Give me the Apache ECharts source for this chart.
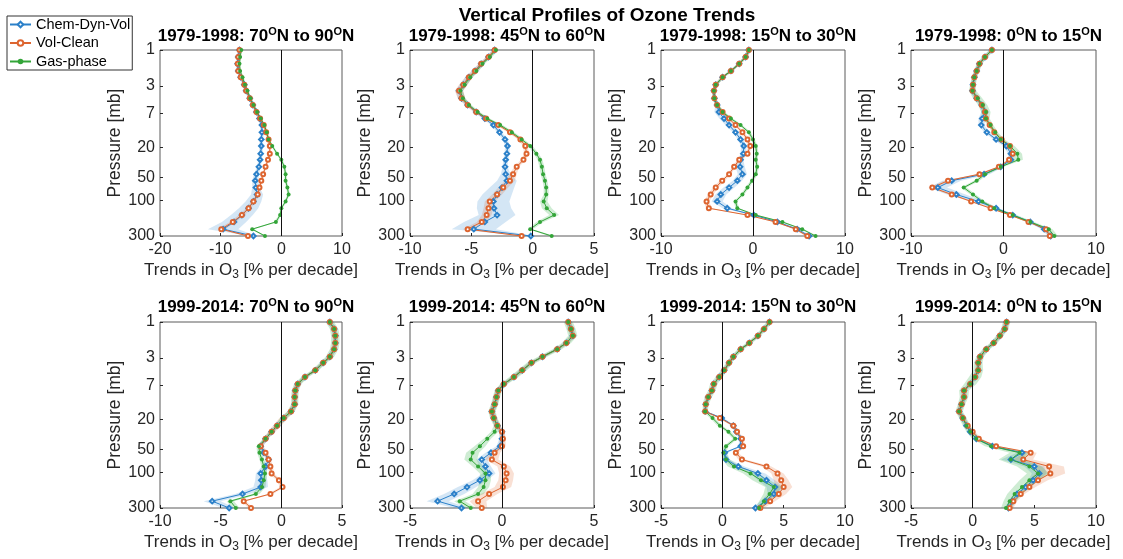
<!DOCTYPE html>
<html>
<head>
<meta charset="utf-8">
<script src="https://cdn.jsdelivr.net/npm/echarts@6/dist/echarts.min.js"></script>
<style>
  html, body { margin: 0; background: #fff; }
  #chart { width: 1123px; height: 559px; }
</style>
</head>
<body>
<div id="chart"></div>
<script>
// pressure levels [mb], shared by every profile
const pressure = [1, 1.24, 1.53, 1.9, 2.3, 2.9, 3.5, 4.4, 5.4, 6.7, 8.2, 10, 12.5, 15.5, 19, 24, 29, 36, 45, 55, 68, 84, 104, 128, 158, 195, 243, 300]
const pressureTicks = [1, 3, 7, 20, 50, 100, 300]
const seriesNames = ['Chem-Dyn-Vol', 'Vol-Clean', 'Gas-phase']

const panelTitles = [
  '1979-1998: 70{s|O}N to 90{s|O}N', '1979-1998: 45{s|O}N to 60{s|O}N',
  '1979-1998: 15{s|O}N to 30{s|O}N', '1979-1998: 0{s|O}N to 15{s|O}N',
  '1999-2014: 70{s|O}N to 90{s|O}N', '1999-2014: 45{s|O}N to 60{s|O}N',
  '1999-2014: 15{s|O}N to 30{s|O}N', '1999-2014: 0{s|O}N to 15{s|O}N',
]
// [min, max, interval] of the trend axis in each panel
const xRanges = [
  [-20, 10, 10], [-10, 5, 5], [-10, 10, 10], [-10, 10, 10],
  [-10, 5, 5], [-5, 5, 5], [-5, 10, 5], [-5, 10, 5],
]

// trends [% per decade] and shading half-widths
const chemDyn1 = [-6.9, -7.1, -7.2, -7.1, -6.7, -6.1, -5.8, -5.2, -4.7, -4.1, -3.6, -3.2, -3.2, -3.3, -3.3, -3.4, -3.5, -3.7, -4.1, -4.3, -4.2, -4.0, -4.6, -5.4, -6.5, -7.8, -9.6, -4.6]
const volClean1 = [-6.9, -7.1, -7.2, -7.1, -6.7, -6.1, -5.8, -5.2, -4.7, -4.1, -3.5, -2.9, -2.5, -2.1, -1.9, -1.9, -2.2, -2.6, -3.0, -3.3, -3.6, -3.9, -4.6, -5.4, -6.5, -8.0, -9.9, -5.5]
const gasPhase1 = [-6.6, -6.8, -6.9, -6.8, -6.4, -6.0, -5.6, -5.1, -4.6, -4.0, -3.4, -2.8, -2.4, -2.1, -1.5, -0.7, 0.0, 0.5, 0.7, 0.7, 1.0, 1.2, 0.7, 0.0, -0.2, -0.9, -4.8, -2.7]
const chemDynSd1 = [0.3, 0.3, 0.3, 0.3, 0.3, 0.3, 0.3, 0.3, 0.3, 0.3, 0.3, 0.3, 0.3, 0.3, 0.3, 0.3, 0.3, 0.3, 0.4, 0.5, 0.6, 1.0, 1.3, 1.6, 1.8, 2.0, 2.5, 0.6]
const volCleanSd1 = [0.2, 0.2, 0.2, 0.2, 0.2, 0.2, 0.2, 0.2, 0.2, 0.2, 0.2, 0.2, 0.2, 0.2, 0.2, 0.2, 0.2, 0.2, 0.2, 0.2, 0.3, 0.3, 0.4, 0.4, 0.5, 0.5, 0.6, 0.3]
const gasPhaseSd1 = [0.2, 0.2, 0.2, 0.2, 0.2, 0.2, 0.2, 0.2, 0.2, 0.2, 0.2, 0.2, 0.2, 0.2, 0.2, 0.2, 0.2, 0.2, 0.2, 0.2, 0.2, 0.2, 0.2, 0.2, 0.2, 0.3, 0.3, 0.2]

const chemDyn2 = [-3.1, -3.6, -4.2, -4.7, -5.2, -5.65, -6.0, -5.8, -5.3, -4.6, -3.9, -3.2, -2.7, -2.25, -2.05, -2.1, -2.2, -2.25, -2.2, -2.1, -2.5, -2.9, -3.2, -3.15, -2.9, -3.9, -4.8, -0.15]
const volClean2 = [-3.1, -3.6, -4.2, -4.7, -5.2, -5.65, -6.0, -5.8, -5.3, -4.6, -3.8, -2.8, -1.85, -1.0, -0.6, -0.5, -0.75, -1.3, -1.6, -1.85, -2.4, -2.9, -3.5, -3.6, -3.75, -4.15, -5.3, -0.9]
const gasPhase2 = [-3.0, -3.5, -4.1, -4.6, -5.1, -5.55, -5.9, -5.7, -5.2, -4.5, -3.7, -2.65, -1.7, -0.9, -0.2, 0.3, 0.6, 0.75, 0.85, 1.0, 1.1, 1.1, 0.9, 1.15, 1.75, 0.6, -0.2, 1.55]
const chemDynSd2 = [0.2, 0.2, 0.2, 0.2, 0.3, 0.3, 0.3, 0.3, 0.2, 0.2, 0.2, 0.2, 0.2, 0.2, 0.2, 0.2, 0.2, 0.2, 0.4, 0.8, 1.0, 1.2, 1.3, 1.4, 1.5, 1.7, 1.8, 0.3]
const volCleanSd2 = [0.2, 0.2, 0.2, 0.3, 0.3, 0.35, 0.35, 0.3, 0.2, 0.2, 0.2, 0.2, 0.2, 0.2, 0.2, 0.2, 0.2, 0.2, 0.3, 0.4, 0.4, 0.4, 0.4, 0.4, 0.4, 0.4, 0.4, 0.2]
const gasPhaseSd2 = [0.2, 0.2, 0.2, 0.2, 0.2, 0.2, 0.2, 0.2, 0.2, 0.2, 0.2, 0.2, 0.2, 0.2, 0.2, 0.2, 0.2, 0.2, 0.2, 0.2, 0.2, 0.2, 0.3, 0.4, 0.4, 0.3, 0.2, 0.2]

const chemDyn3 = [-0.45, -0.8, -1.5, -2.4, -3.3, -4.05, -4.25, -4.2, -3.9, -3.7, -3.15, -2.6, -1.9, -1.35, -1.0, -1.05, -1.35, -1.4, -1.15, -1.7, -2.6, -3.5, -3.9, -2.8, 0.1, 2.65, 4.8, 6.1]
const volClean3 = [-0.45, -0.8, -1.5, -2.4, -3.3, -4.05, -4.25, -4.2, -3.9, -3.3, -2.6, -1.9, -1.15, -0.6, -0.3, -0.6, -1.5, -2.05, -2.6, -3.35, -4.05, -4.6, -5.05, -4.8, -0.6, 2.45, 4.65, 5.9]
const gasPhase3 = [-0.45, -0.8, -1.5, -2.4, -3.3, -4.05, -4.25, -4.2, -3.9, -3.3, -2.4, -1.35, -0.45, 0.0, 0.3, 0.4, 0.3, 0.45, 0.3, -0.1, -0.6, -1.15, -1.9, -1.7, 0.3, 3.2, 5.35, 6.8]
const chemDynSd3 = [0.2, 0.2, 0.2, 0.2, 0.2, 0.2, 0.2, 0.2, 0.2, 0.5, 0.5, 0.4, 0.3, 0.3, 0.3, 0.3, 0.3, 0.5, 0.5, 0.5, 0.6, 0.6, 0.6, 0.5, 0.3, 0.3, 0.3, 0.3]
const volCleanSd3 = [0.2, 0.2, 0.2, 0.2, 0.2, 0.2, 0.2, 0.2, 0.2, 0.2, 0.2, 0.2, 0.2, 0.2, 0.2, 0.2, 0.2, 0.2, 0.2, 0.3, 0.3, 0.3, 0.3, 0.3, 0.2, 0.2, 0.2, 0.2]
const gasPhaseSd3 = [0.2, 0.2, 0.2, 0.2, 0.2, 0.2, 0.2, 0.2, 0.2, 0.2, 0.2, 0.2, 0.2, 0.2, 0.2, 0.2, 0.2, 0.2, 0.2, 0.2, 0.2, 0.2, 0.2, 0.2, 0.2, 0.2, 0.2, 0.2]

const chemDyn4 = [-1.25, -2.0, -2.6, -2.9, -3.15, -3.3, -3.35, -2.9, -2.35, -2.0, -2.3, -2.4, -1.8, -0.8, 0.3, 0.8, 0.8, -0.3, -2.1, -5.6, -7.1, -5.1, -2.7, -0.8, 1.0, 2.9, 4.4, 5.1]
const volClean4 = [-1.25, -2.0, -2.6, -2.9, -3.15, -3.3, -3.35, -2.9, -2.35, -2.0, -1.9, -1.5, -1.0, -0.2, 0.7, 1.0, 0.6, -0.5, -2.6, -6.0, -7.7, -5.6, -3.5, -1.4, 0.7, 2.7, 4.6, 5.0]
const gasPhase4 = [-1.25, -2.0, -2.6, -2.9, -3.15, -3.3, -3.35, -2.8, -2.25, -1.9, -1.9, -1.4, -0.9, -0.3, 0.7, 1.5, 1.6, -0.3, -2.0, -2.9, -4.3, -3.3, -2.3, -1.0, 1.0, 2.9, 4.9, 5.5]
const chemDynSd4 = [0.25, 0.25, 0.25, 0.25, 0.25, 0.25, 0.25, 0.25, 0.25, 0.4, 0.4, 0.3, 0.3, 0.3, 0.3, 0.3, 0.3, 0.3, 0.6, 1.0, 1.0, 1.0, 0.6, 0.3, 0.3, 0.3, 0.3, 0.3]
const volCleanSd4 = [0.2, 0.2, 0.2, 0.2, 0.2, 0.2, 0.2, 0.2, 0.2, 0.2, 0.2, 0.2, 0.2, 0.2, 0.2, 0.2, 0.2, 0.2, 0.3, 0.4, 0.4, 0.3, 0.2, 0.2, 0.2, 0.2, 0.2, 0.2]
const gasPhaseSd4 = [0.3, 0.3, 0.3, 0.3, 0.3, 0.3, 0.4, 0.5, 0.5, 0.5, 0.4, 0.3, 0.3, 0.4, 0.5, 0.5, 0.5, 0.3, 0.3, 0.3, 0.3, 0.3, 0.3, 0.4, 0.4, 0.4, 0.4, 0.4]

const chemDyn5 = [4.0, 4.35, 4.45, 4.45, 4.35, 4.0, 3.45, 2.8, 1.95, 1.35, 1.15, 1.1, 1.1, 0.8, 0.2, -0.35, -0.8, -1.3, -1.7, -1.45, -1.05, -1.3, -1.7, -1.65, -1.7, -3.2, -5.7, -4.3]
const volClean5 = [4.0, 4.35, 4.45, 4.45, 4.35, 4.0, 3.45, 2.8, 1.95, 1.35, 1.15, 1.1, 1.1, 0.8, 0.2, -0.35, -0.8, -1.3, -1.7, -1.3, -1.05, -0.9, -0.8, -0.2, 0.1, -0.9, -3.1, -2.5]
const gasPhase5 = [4.0, 4.35, 4.45, 4.45, 4.35, 4.0, 3.45, 2.8, 1.95, 1.35, 1.15, 1.1, 1.1, 0.8, 0.2, -0.35, -0.8, -1.3, -1.85, -1.8, -1.6, -1.45, -1.35, -1.45, -1.6, -2.1, -4.2, -3.75]
const chemDynSd5 = [0.2, 0.2, 0.2, 0.2, 0.2, 0.2, 0.2, 0.2, 0.2, 0.2, 0.2, 0.2, 0.2, 0.2, 0.2, 0.2, 0.2, 0.2, 0.2, 0.2, 0.2, 0.3, 0.4, 0.5, 0.6, 0.6, 0.7, 0.5]
const volCleanSd5 = [0.2, 0.2, 0.2, 0.2, 0.2, 0.2, 0.2, 0.2, 0.2, 0.2, 0.2, 0.2, 0.2, 0.3, 0.35, 0.35, 0.3, 0.2, 0.2, 0.2, 0.2, 0.2, 0.2, 0.2, 0.2, 0.2, 0.2, 0.2]
const gasPhaseSd5 = [0.35, 0.35, 0.35, 0.35, 0.35, 0.35, 0.3, 0.3, 0.3, 0.3, 0.3, 0.3, 0.3, 0.3, 0.3, 0.2, 0.2, 0.2, 0.2, 0.2, 0.2, 0.2, 0.2, 0.2, 0.3, 0.3, 0.3, 0.3]

const chemDyn6 = [3.6, 3.75, 3.85, 3.5, 3.0, 2.2, 1.6, 1.1, 0.65, 0.1, -0.2, -0.3, -0.4, -0.55, -0.45, -0.25, 0.0, 0.0, -0.1, -0.6, -1.1, -0.9, -0.7, -1.2, -1.9, -2.6, -3.5, -2.2]
const volClean6 = [3.6, 3.75, 3.85, 3.5, 3.0, 2.2, 1.6, 1.1, 0.65, 0.1, -0.2, -0.3, -0.4, -0.55, -0.45, -0.25, 0.0, 0.05, 0.0, -0.4, -0.55, 0.1, 0.25, 0.2, 0.05, -0.7, -1.3, -1.1]
const gasPhase6 = [3.6, 3.75, 3.85, 3.5, 3.0, 2.2, 1.6, 1.1, 0.65, 0.1, -0.2, -0.3, -0.4, -0.55, -0.45, -0.25, -0.4, -0.8, -1.2, -1.6, -1.7, -1.3, -0.9, -0.9, -1.0, -1.3, -2.3, -1.7]
const chemDynSd6 = [0.15, 0.15, 0.15, 0.15, 0.15, 0.15, 0.15, 0.15, 0.15, 0.15, 0.15, 0.15, 0.15, 0.15, 0.15, 0.15, 0.15, 0.15, 0.2, 0.3, 0.3, 0.3, 0.35, 0.4, 0.5, 0.55, 0.6, 0.4]
const volCleanSd6 = [0.15, 0.15, 0.15, 0.15, 0.15, 0.15, 0.15, 0.15, 0.15, 0.15, 0.15, 0.15, 0.15, 0.15, 0.15, 0.15, 0.15, 0.15, 0.2, 0.3, 0.35, 0.35, 0.4, 0.4, 0.45, 0.45, 0.45, 0.3]
const gasPhaseSd6 = [0.25, 0.25, 0.25, 0.25, 0.25, 0.25, 0.25, 0.25, 0.25, 0.2, 0.2, 0.2, 0.2, 0.2, 0.2, 0.2, 0.2, 0.2, 0.3, 0.35, 0.35, 0.3, 0.3, 0.3, 0.3, 0.3, 0.3, 0.3]

const chemDyn7 = [3.85, 3.4, 2.9, 2.2, 1.5, 0.9, 0.55, 0.15, -0.25, -0.7, -0.85, -1.15, -1.35, -1.4, -0.05, 0.9, 1.15, 1.5, 1.5, 0.2, 0.3, 1.3, 2.9, 3.6, 4.3, 4.2, 3.5, 2.7]
const volClean7 = [3.85, 3.4, 2.9, 2.2, 1.5, 0.9, 0.55, 0.15, -0.25, -0.7, -0.85, -1.15, -1.35, -1.4, -0.2, 0.9, 1.2, 1.6, 1.7, 1.1, 1.6, 3.6, 4.5, 4.8, 5.0, 4.6, 3.9, 3.1]
const gasPhase7 = [3.85, 3.4, 2.9, 2.2, 1.5, 0.9, 0.55, 0.15, -0.25, -0.7, -0.85, -1.15, -1.35, -1.4, -0.8, -0.2, 0.5, 1.05, 0.3, 0.1, 0.3, 0.95, 2.3, 3.15, 4.2, 3.85, 3.4, 3.0]
const chemDynSd7 = [0.15, 0.15, 0.15, 0.15, 0.15, 0.15, 0.15, 0.15, 0.15, 0.15, 0.15, 0.15, 0.15, 0.15, 0.15, 0.15, 0.15, 0.15, 0.15, 0.2, 0.3, 0.5, 0.6, 0.7, 0.7, 0.5, 0.4, 0.3]
const volCleanSd7 = [0.15, 0.15, 0.15, 0.15, 0.15, 0.15, 0.15, 0.15, 0.15, 0.15, 0.15, 0.15, 0.15, 0.15, 0.15, 0.15, 0.15, 0.15, 0.15, 0.2, 0.3, 0.4, 0.5, 0.6, 0.7, 0.6, 0.4, 0.3]
const gasPhaseSd7 = [0.25, 0.25, 0.25, 0.25, 0.25, 0.25, 0.25, 0.25, 0.3, 0.3, 0.3, 0.3, 0.25, 0.2, 0.2, 0.2, 0.2, 0.2, 0.2, 0.2, 0.3, 0.5, 0.6, 0.7, 0.7, 0.5, 0.4, 0.3]

const chemDyn8 = [2.75, 2.6, 2.2, 1.7, 1.1, 0.6, 0.45, 0.45, 0.2, -0.2, -0.7, -0.7, -0.9, -1.1, -0.8, -0.5, -0.2, 0.3, 1.6, 4.0, 3.1, 5.0, 5.4, 4.9, 4.3, 3.6, 3.2, 2.9]
const volClean8 = [2.75, 2.6, 2.2, 1.7, 1.1, 0.6, 0.45, 0.45, 0.2, -0.2, -0.7, -0.7, -0.9, -1.1, -0.8, -0.4, 0.0, 0.5, 1.9, 4.7, 4.1, 6.2, 6.3, 5.3, 4.6, 3.9, 3.3, 3.0]
const gasPhase8 = [2.75, 2.6, 2.2, 1.7, 1.1, 0.6, 0.45, 0.45, 0.2, -0.2, -0.7, -0.7, -0.9, -1.1, -0.8, -0.5, -0.2, 0.3, 1.5, 3.8, 3.1, 4.6, 5.3, 4.6, 4.0, 3.4, 3.0, 2.7]
const chemDynSd8 = [0.2, 0.2, 0.2, 0.2, 0.2, 0.2, 0.2, 0.2, 0.2, 0.2, 0.2, 0.2, 0.2, 0.2, 0.2, 0.2, 0.2, 0.2, 0.2, 0.4, 0.8, 0.8, 0.6, 0.4, 0.3, 0.3, 0.3, 0.3]
const volCleanSd8 = [0.2, 0.2, 0.2, 0.2, 0.2, 0.2, 0.2, 0.2, 0.2, 0.2, 0.2, 0.2, 0.2, 0.2, 0.2, 0.2, 0.2, 0.2, 0.2, 0.5, 0.8, 1.2, 1.2, 0.8, 0.5, 0.3, 0.3, 0.3]
const gasPhaseSd8 = [0.3, 0.3, 0.3, 0.3, 0.3, 0.3, 0.35, 0.4, 0.5, 0.5, 0.4, 0.35, 0.3, 0.3, 0.3, 0.3, 0.3, 0.35, 0.5, 0.8, 1.0, 1.0, 0.9, 0.8, 0.7, 0.6, 0.5, 0.4]

const trends = [
  [chemDyn1, volClean1, gasPhase1], [chemDyn2, volClean2, gasPhase2],
  [chemDyn3, volClean3, gasPhase3], [chemDyn4, volClean4, gasPhase4],
  [chemDyn5, volClean5, gasPhase5], [chemDyn6, volClean6, gasPhase6],
  [chemDyn7, volClean7, gasPhase7], [chemDyn8, volClean8, gasPhase8],
]
const spreads = [
  [chemDynSd1, volCleanSd1, gasPhaseSd1], [chemDynSd2, volCleanSd2, gasPhaseSd2],
  [chemDynSd3, volCleanSd3, gasPhaseSd3], [chemDynSd4, volCleanSd4, gasPhaseSd4],
  [chemDynSd5, volCleanSd5, gasPhaseSd5], [chemDynSd6, volCleanSd6, gasPhaseSd6],
  [chemDynSd7, volCleanSd7, gasPhaseSd7], [chemDynSd8, volCleanSd8, gasPhaseSd8],
]

const FONT = '"Liberation Sans", Arial, sans-serif'
const INK = '#262626'
const lineColors = ['#2b80c9', '#dd6530', '#33a538']
const bandColors = ['rgba(40, 128, 205, 0.2)', 'rgba(225, 100, 40, 0.2)', 'rgba(50, 175, 70, 0.24)']
const symbols = ['emptyDiamond', 'emptyCircle', 'circle']
const symbolSizes = [4.5, 4, 4]

const colLefts = [160, 410, 661, 911]
const colWidths = [182, 184, 184, 185]
const rowTops = [50, 322]
const plotHeight = 186
const logTicks = pressureTicks.map(p => Math.log10(p))

const chart = echarts.init(document.getElementById('chart'), null, { renderer: 'canvas' })

const grids = []
const xAxes = []
const yAxes = []
const titles = [{
  text: 'Vertical Profiles of Ozone Trends',
  left: 602, top: 1, textAlign: 'center',
  textStyle: { fontFamily: FONT, fontSize: 19, fontWeight: 'bold', color: '#000', lineHeight: 20 },
}]
const series = []

panelTitles.forEach((title, k) => {
  const col = k % 4
  const row = Math.floor(k / 4)
  grids.push({
    left: colLefts[col], width: colWidths[col], top: rowTops[row], height: plotHeight,
    show: true, borderColor: '#5a5a5a', borderWidth: 1, backgroundColor: 'transparent',
  })
  titles.push({
    text: title,
    left: colLefts[col] + colWidths[col] / 2,
    top: row === 0 ? 21 : 292,
    textAlign: 'center',
    textStyle: {
      fontFamily: FONT, fontSize: 17, fontWeight: 'bold', color: '#000', lineHeight: 20,
      rich: { s: { fontFamily: FONT, fontSize: 11, fontWeight: 'bold', color: '#000', verticalAlign: 'top', lineHeight: 11 } },
    },
  })
  const [xmin, xmax, xint] = xRanges[k]
  xAxes.push({
    type: 'value', gridIndex: k, min: xmin, max: xmax, interval: xint,
    name: 'Trends in O{sub|3} [% per decade]',
    nameLocation: 'middle', nameGap: 21,
    nameTextStyle: {
      fontFamily: FONT, fontSize: 17, color: INK, lineHeight: 22,
      rich: { sub: { fontFamily: FONT, fontSize: 12, color: INK, verticalAlign: 'bottom', lineHeight: 10 } },
    },
    axisLine: { show: false, onZero: false },
    axisTick: { show: true, inside: true, length: 3, lineStyle: { color: INK } },
    axisLabel: { fontFamily: FONT, fontSize: 16, color: INK, margin: 6 },
    splitLine: { show: false },
  })
  yAxes.push({
    type: 'value', gridIndex: k, inverse: true, min: 0, max: Math.log10(300),
    name: 'Pressure [mb]', nameLocation: 'middle', nameGap: 36,
    nameTextStyle: { fontFamily: FONT, fontSize: 17.5, color: INK },
    axisLine: { show: false, onZero: false },
    axisTick: { show: true, inside: true, length: 3, customValues: logTicks, lineStyle: { color: INK } },
    axisLabel: {
      fontFamily: FONT, fontSize: 16, color: INK, margin: 5,
      customValues: logTicks,
      formatter: v => String(Math.round(Math.pow(10, v))),
    },
    splitLine: { show: false },
  })

  // shaded spread behind each profile
  trends[k].forEach((vals, s) => {
    const sd = spreads[k][s]
    const band = {
      type: 'custom', name: seriesNames[s] + ' range', xAxisIndex: k, yAxisIndex: k,
      silent: true, z: 1,
      data: pressure.map((p, i) => [vals[i] - sd[i], vals[i] + sd[i], Math.log10(p)]),
      encode: { x: [0, 1], y: 2 },
      renderItem: (params, api) => {
        if (params.dataIndexInside !== 0) return null
        const n = params.dataInsideLength
        const lo = []
        const hi = []
        for (let i = 0; i < n; i++) {
          lo.push(api.coord([api.value(0, i), api.value(2, i)]))
          hi.push(api.coord([api.value(1, i), api.value(2, i)]))
        }
        return {
          type: 'polygon',
          shape: { points: lo.concat(hi.reverse()) },
          style: { fill: bandColors[s] },
        }
      },
    }
    if (s === 0) {
      band.markLine = {
        silent: true, symbol: 'none', label: { show: false },
        lineStyle: { color: '#111', width: 1, type: 'solid' },
        data: [{ xAxis: 0 }],
      }
    }
    series.push(band)
  })

  trends[k].forEach((vals, s) => {
    series.push({
      type: 'line', name: seriesNames[s], xAxisIndex: k, yAxisIndex: k, z: 3,
      data: pressure.map((p, i) => [vals[i], Math.log10(p)]),
      symbol: symbols[s], symbolSize: symbolSizes[s], showSymbol: true,
      lineStyle: { width: 1, color: lineColors[s] },
      itemStyle: { color: lineColors[s], borderWidth: 0.8 },
    })
  })
})

chart.setOption({
  animation: false,
  backgroundColor: '#fff',
  title: titles,
  legend: {
    data: seriesNames, orient: 'vertical', left: 7, top: 16,
    itemWidth: 21, itemHeight: 7, itemGap: 3.5,
    padding: [1, 2, 1, 2], borderColor: '#333', borderWidth: 1,
    selectedMode: false,
    textStyle: { fontFamily: FONT, fontSize: 14.5, color: '#000', lineHeight: 15 },
  },
  grid: grids,
  xAxis: xAxes,
  yAxis: yAxes,
  series,
})
</script>
</body>
</html>
